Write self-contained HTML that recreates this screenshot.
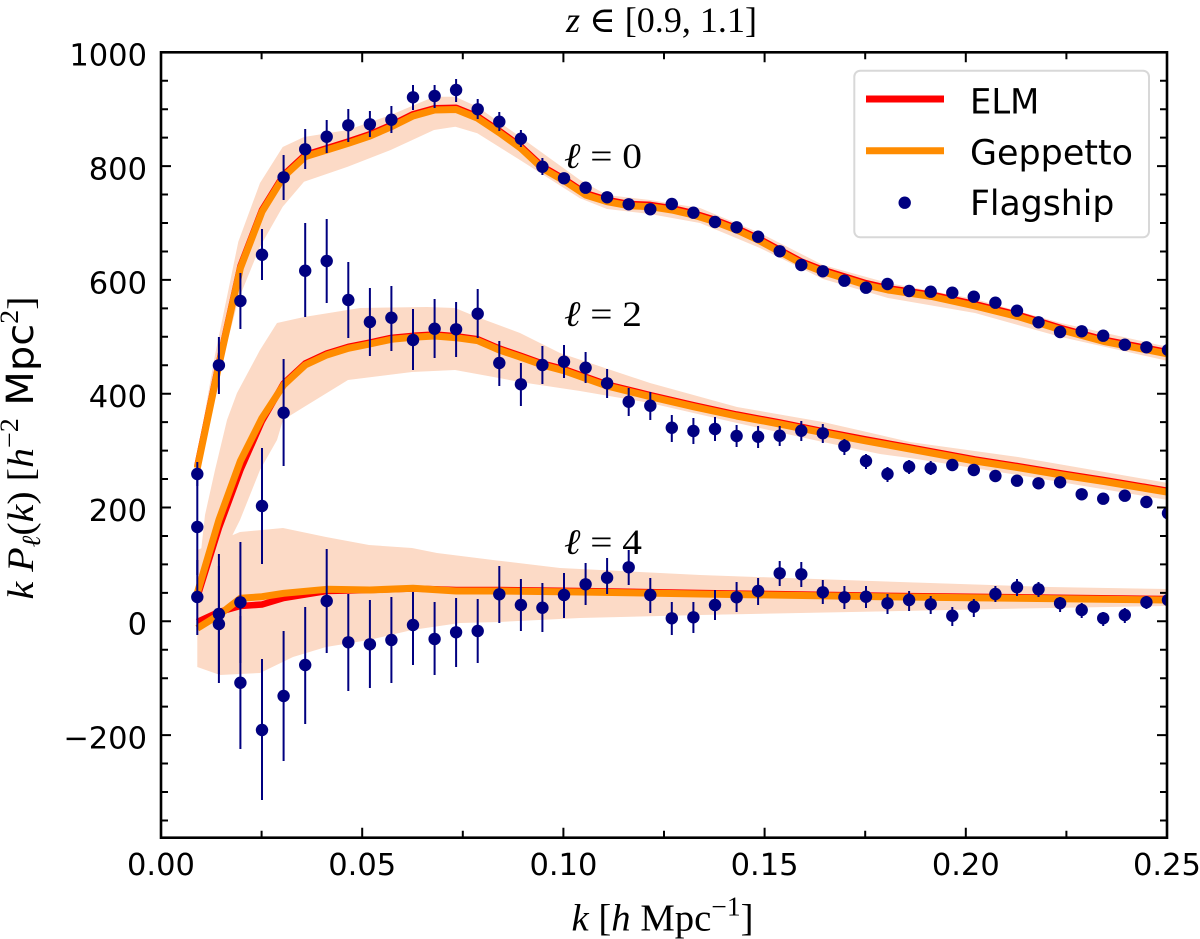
<!DOCTYPE html>
<html><head><meta charset="utf-8"><style>html,body{margin:0;padding:0;background:#fff}svg{display:block}</style></head>
<body>
<svg width="1200" height="939" viewBox="0 0 1200 939" xmlns="http://www.w3.org/2000/svg">
<defs><clipPath id="ax"><rect x="161" y="52.3" width="1006" height="785.4"/></clipPath></defs>
<rect width="1200" height="939" fill="#fff"/>
<g clip-path="url(#ax)">
<g fill="#fcdac6" stroke="none">
<polygon points="197.3,455 215,355 238.3,241.7 260,183 282.7,147 304,137 347.7,130 390.7,115 434,96.7 455.3,96.7 477.3,106.7 520,136.7 580,180 607,195 650,200 700,208 760,233 823,265 888,283 975,299 1061,323 1168,347 1168,361 1061,337 975,313 888,298 823,279 760,248 700,223 650,214 607,209 580,198.3 520,160 477.3,133.3 455.3,126.7 434,130 390.7,150 347.7,166.7 304,181.7 282.7,206.7 260,246.7 238.3,300 215,390 197.3,485"/>
<polygon points="197.3,585 205,515 215,470 227,420 237,393 260,350 277,323 304,317 360,308 427,307 455,308 477,317 520,333 560,353 650,383 737,407 823,422 880,435 910,442 1018,457 1168,483 1168,500 1018,475 910,458 880,454 823,442 737,423 650,403 580,391 520,382 499,378 455,370 412,372 348,380 304,407 283,420 277,440 260,470 240,520 220,560 197.3,600"/>
<polygon points="197.3,550 240,532 283,528 326,537 369,545 412,548 437,553 493,560 560,568 700,575 900,582 1050,587 1168,589 1168,606 1050,608 900,611 700,615 580,618 499,622 460,623 412,630 369,640 326,647 293,657 260,673 220,675 197.3,667"/>
</g>
<g fill="none" stroke="#ff0000" stroke-width="6.5" stroke-linejoin="round">
<path transform="translate(0,-1.8)" d="M197.3,468 L218.9,365 L240.4,268 L262,211.7 L283.6,176.7 L305.2,156.7 L326.7,150 L348.3,143.3 L369.9,136 L391.4,126.7 L413,116 L434.6,110 L456.1,109.5 L477.7,118.3 L499.3,132.7 L520.9,148.3 L542.4,168.3 L564,180.7 L585.6,195 L607.1,201.7 L628.7,205.7 L650.3,206.7 L671.8,210 L693.4,215 L715,221.7 L736.6,230 L758.1,240 L779.7,251.7 L801.3,263.3 L822.8,271.7 L844.4,278.3 L866,285 L888,290 L931.7,296.5 L975,306 L1018.3,316.7 L1061.7,330 L1105,341.7 L1168,354"/>
<path d="M197.3,597 L218.9,528 L240.4,470 L262,421 L283.6,383.5 L305.2,363.5 L326.7,353.5 L348.3,346.8 L369.9,342.5 L391.4,337.8 L413,335.8 L434.6,334.5 L456.1,336.2 L477.7,339.2 L499.3,348.5 L520.9,355.8 L542.4,363.5 L564,369.2 L607.1,384.5 L650.3,395.2 L693.4,405.2 L736.6,414.5 L779.7,422.5 L822.8,431.2 L866,439.5 L910,447.5 L953.3,455.5 L975,459.5 L1018.3,466.2 L1061.7,473.5 L1105,480.2 L1168,490.8"/>
<path d="M197.3,622 L218.9,612 L240.4,606 L262,604.5 L283.6,598 L326.7,591 L369.9,590 L413,588.5 L456.1,590 L499.3,590 L580,591 L700,593 L900,596 L1168,599"/>
</g>
<g fill="none" stroke="#ff8c00" stroke-width="7" stroke-linejoin="round">
<path d="M197.3,468 L218.9,365 L240.4,268 L262,211.7 L283.6,176.7 L305.2,156.7 L326.7,150 L348.3,143.3 L369.9,136 L391.4,126.7 L413,116 L434.6,110 L456.1,109.5 L477.7,118.3 L499.3,132.7 L520.9,148.3 L542.4,168.3 L564,180.7 L585.6,195 L607.1,201.7 L628.7,205.7 L650.3,206.7 L671.8,210 L693.4,215 L715,221.7 L736.6,230 L758.1,240 L779.7,251.7 L801.3,263.3 L822.8,271.7 L844.4,278.3 L866,285 L888,290 L931.7,296.5 L975,306 L1018.3,316.7 L1061.7,330 L1105,341.7 L1168,354"/>
<path d="M197.3,593 L218.9,520 L240.4,461 L262,418 L283.6,385 L305.2,365 L326.7,355 L348.3,348.3 L369.9,344 L391.4,339.3 L413,337.3 L434.6,336 L456.1,337.7 L477.7,340.7 L499.3,350 L520.9,357.3 L542.4,365 L564,370.7 L607.1,386 L650.3,396.7 L693.4,406.7 L736.6,416 L779.7,424 L822.8,432.7 L866,441 L910,449 L953.3,457 L975,461 L1018.3,467.7 L1061.7,475 L1105,481.7 L1168,492.3"/>
<path d="M197.3,628.3 L218.9,615 L240.4,598.3 L262,596.7 L283.6,593.3 L326.7,589.3 L369.9,590 L413,588.3 L456.1,591 L499.3,591 L580,592 L700,594 L900,597 L1168,600"/>
</g>
<g fill="none" stroke="#000080" stroke-width="2">
<path d="M197.3,462V486 M218.9,337V394 M240.4,273V329 M262,229V280 M283.6,155V200 M305.2,129V169 M326.7,120V153 M348.3,109V142 M369.9,111V137 M391.4,106V133 M413,85V110 M434.6,85V108 M456.1,79V102 M477.7,99V119 M499.3,112V131 M520.9,130V147 M542.4,158V175"/>
<path d="M197.3,480V575 M218.9,554V674 M240.4,542V663 M262,448V564 M283.6,359V466 M305.2,223V317 M326.7,219V303 M348.3,262V338 M369.9,288V356 M391.4,286V351 M413,309V370 M434.6,299V358 M456.1,302V357 M477.7,289V338 M499.3,341V386 M520.9,363V406 M542.4,346V384 M564,345V378 M585.6,352V383 M607.1,369V398 M628.7,388V416 M650.3,392V420 M671.8,415V442 M693.4,418V444 M715,417V441 M736.6,425V447 M758.1,426V448 M779.7,426V446 M801.3,421V441 M822.8,424V443 M844.4,439V455 M866,454V469 M887.5,467V482 M909.1,460V474 M930.7,461V475 M952.3,459V471 M973.8,464V476"/>
<path d="M197.3,560V635 M218.9,566V683 M240.4,616V749 M262,659V800 M283.6,631V761 M305.2,607V724 M326.7,549V653 M348.3,594V691 M369.9,600V688 M391.4,597V683 M413,592V665 M434.6,602V675 M456.1,598V667 M477.7,599V663 M499.3,566V623 M520.9,579V631 M542.4,583V632 M564,573V618 M585.6,563V605 M607.1,558V594 M628.7,550V585 M650.3,578V613 M671.8,602V635 M693.4,602V633 M715,590V620 M736.6,582V612 M758.1,578V605 M779.7,561V586 M801.3,562V587 M822.8,580V604 M844.4,586V609 M866,586V608 M887.5,594V614 M909.1,591V611 M930.7,596V614 M952.3,607V626 M973.8,599V617 M995.4,586V602 M1017,579V596 M1038.5,582V597 M1060.1,597V612 M1081.7,603V618 M1103.2,612V626 M1124.8,608V623 M1146.4,596V609"/>
</g>
<g fill="#000080">
<circle cx="197.3" cy="474" r="6.2"/><circle cx="218.9" cy="365.3" r="6.2"/><circle cx="240.4" cy="301" r="6.2"/><circle cx="262" cy="254.7" r="6.2"/><circle cx="283.6" cy="177.3" r="6.2"/><circle cx="305.2" cy="149.3" r="6.2"/><circle cx="326.7" cy="136.7" r="6.2"/><circle cx="348.3" cy="125.3" r="6.2"/><circle cx="369.9" cy="124.3" r="6.2"/><circle cx="391.4" cy="119.7" r="6.2"/><circle cx="413" cy="97.3" r="6.2"/><circle cx="434.6" cy="96" r="6.2"/><circle cx="456.1" cy="90" r="6.2"/><circle cx="477.7" cy="109.3" r="6.2"/><circle cx="499.3" cy="121.7" r="6.2"/><circle cx="520.9" cy="138.7" r="6.2"/><circle cx="542.4" cy="166.7" r="6.2"/><circle cx="564" cy="178.3" r="6.2"/><circle cx="585.6" cy="187.7" r="6.2"/><circle cx="607.1" cy="197.3" r="6.2"/><circle cx="628.7" cy="204.3" r="6.2"/><circle cx="650.3" cy="209.3" r="6.2"/><circle cx="671.8" cy="204" r="6.2"/><circle cx="693.4" cy="212.7" r="6.2"/><circle cx="715" cy="222" r="6.2"/><circle cx="736.6" cy="227.3" r="6.2"/><circle cx="758.1" cy="236.7" r="6.2"/><circle cx="779.7" cy="251.3" r="6.2"/><circle cx="801.3" cy="265" r="6.2"/><circle cx="822.8" cy="271.3" r="6.2"/><circle cx="844.4" cy="280.7" r="6.2"/><circle cx="866" cy="287.7" r="6.2"/><circle cx="887.5" cy="284" r="6.2"/><circle cx="909.1" cy="291" r="6.2"/><circle cx="930.7" cy="291.7" r="6.2"/><circle cx="952.3" cy="292.7" r="6.2"/><circle cx="973.8" cy="296.7" r="6.2"/><circle cx="995.4" cy="302.7" r="6.2"/><circle cx="1017" cy="310.7" r="6.2"/><circle cx="1038.5" cy="322.3" r="6.2"/><circle cx="1060.1" cy="332" r="6.2"/><circle cx="1081.7" cy="331.3" r="6.2"/><circle cx="1103.2" cy="335.7" r="6.2"/><circle cx="1124.8" cy="344.7" r="6.2"/><circle cx="1146.4" cy="347.3" r="6.2"/><circle cx="1168" cy="350" r="6.2"/>
<circle cx="197.3" cy="527" r="6.2"/><circle cx="218.9" cy="614" r="6.2"/><circle cx="240.4" cy="602.3" r="6.2"/><circle cx="262" cy="506" r="6.2"/><circle cx="283.6" cy="412.7" r="6.2"/><circle cx="305.2" cy="270.7" r="6.2"/><circle cx="326.7" cy="261" r="6.2"/><circle cx="348.3" cy="300" r="6.2"/><circle cx="369.9" cy="322" r="6.2"/><circle cx="391.4" cy="317.7" r="6.2"/><circle cx="413" cy="340" r="6.2"/><circle cx="434.6" cy="328.7" r="6.2"/><circle cx="456.1" cy="329.3" r="6.2"/><circle cx="477.7" cy="313.7" r="6.2"/><circle cx="499.3" cy="363" r="6.2"/><circle cx="520.9" cy="384.3" r="6.2"/><circle cx="542.4" cy="365" r="6.2"/><circle cx="564" cy="361.7" r="6.2"/><circle cx="585.6" cy="367.7" r="6.2"/><circle cx="607.1" cy="383.3" r="6.2"/><circle cx="628.7" cy="401.7" r="6.2"/><circle cx="650.3" cy="405.7" r="6.2"/><circle cx="671.8" cy="427.7" r="6.2"/><circle cx="693.4" cy="431" r="6.2"/><circle cx="715" cy="429" r="6.2"/><circle cx="736.6" cy="436" r="6.2"/><circle cx="758.1" cy="436.7" r="6.2"/><circle cx="779.7" cy="435.7" r="6.2"/><circle cx="801.3" cy="430.7" r="6.2"/><circle cx="822.8" cy="433.3" r="6.2"/><circle cx="844.4" cy="446" r="6.2"/><circle cx="866" cy="461" r="6.2"/><circle cx="887.5" cy="474" r="6.2"/><circle cx="909.1" cy="466.7" r="6.2"/><circle cx="930.7" cy="468.3" r="6.2"/><circle cx="952.3" cy="465" r="6.2"/><circle cx="973.8" cy="470" r="6.2"/><circle cx="995.4" cy="476" r="6.2"/><circle cx="1017" cy="480.7" r="6.2"/><circle cx="1038.5" cy="483.3" r="6.2"/><circle cx="1060.1" cy="482.3" r="6.2"/><circle cx="1081.7" cy="494.3" r="6.2"/><circle cx="1103.2" cy="498.7" r="6.2"/><circle cx="1124.8" cy="495.7" r="6.2"/><circle cx="1146.4" cy="502" r="6.2"/><circle cx="1168" cy="513.3" r="6.2"/>
<circle cx="197.3" cy="597" r="6.2"/><circle cx="218.9" cy="624" r="6.2"/><circle cx="240.4" cy="682.7" r="6.2"/><circle cx="262" cy="730" r="6.2"/><circle cx="283.6" cy="696" r="6.2"/><circle cx="305.2" cy="665" r="6.2"/><circle cx="326.7" cy="601" r="6.2"/><circle cx="348.3" cy="642.3" r="6.2"/><circle cx="369.9" cy="644.3" r="6.2"/><circle cx="391.4" cy="640" r="6.2"/><circle cx="413" cy="625" r="6.2"/><circle cx="434.6" cy="639" r="6.2"/><circle cx="456.1" cy="632.3" r="6.2"/><circle cx="477.7" cy="631" r="6.2"/><circle cx="499.3" cy="594.3" r="6.2"/><circle cx="520.9" cy="605" r="6.2"/><circle cx="542.4" cy="607.7" r="6.2"/><circle cx="564" cy="595" r="6.2"/><circle cx="585.6" cy="584.3" r="6.2"/><circle cx="607.1" cy="577.7" r="6.2"/><circle cx="628.7" cy="567.3" r="6.2"/><circle cx="650.3" cy="595" r="6.2"/><circle cx="671.8" cy="618.3" r="6.2"/><circle cx="693.4" cy="617.3" r="6.2"/><circle cx="715" cy="605" r="6.2"/><circle cx="736.6" cy="597.3" r="6.2"/><circle cx="758.1" cy="591" r="6.2"/><circle cx="779.7" cy="573.3" r="6.2"/><circle cx="801.3" cy="574.3" r="6.2"/><circle cx="822.8" cy="592.3" r="6.2"/><circle cx="844.4" cy="597.3" r="6.2"/><circle cx="866" cy="596.7" r="6.2"/><circle cx="887.5" cy="603.3" r="6.2"/><circle cx="909.1" cy="600" r="6.2"/><circle cx="930.7" cy="604.3" r="6.2"/><circle cx="952.3" cy="615.7" r="6.2"/><circle cx="973.8" cy="606.7" r="6.2"/><circle cx="995.4" cy="594" r="6.2"/><circle cx="1017" cy="587.3" r="6.2"/><circle cx="1038.5" cy="589.3" r="6.2"/><circle cx="1060.1" cy="603.3" r="6.2"/><circle cx="1081.7" cy="610" r="6.2"/><circle cx="1103.2" cy="618.3" r="6.2"/><circle cx="1124.8" cy="615" r="6.2"/><circle cx="1146.4" cy="602.3" r="6.2"/><circle cx="1168" cy="600" r="6.2"/>
</g>
</g>
<g font-family="'Liberation Serif','DejaVu Serif',serif" font-size="36" fill="#000">
<text x="564" y="168" textLength="78" lengthAdjust="spacingAndGlyphs"><tspan font-style="italic">ℓ</tspan> = 0</text>
<text x="564" y="326" textLength="78" lengthAdjust="spacingAndGlyphs"><tspan font-style="italic">ℓ</tspan> = 2</text>
<text x="564" y="554" textLength="78" lengthAdjust="spacingAndGlyphs"><tspan font-style="italic">ℓ</tspan> = 4</text>
</g>
<g stroke="#000" stroke-width="2" fill="none">
<path d="M261.6,837.7v-7 M362.2,837.7v-10 M462.8,837.7v-7 M563.4,837.7v-10 M664,837.7v-7 M764.6,837.7v-10 M865.2,837.7v-7 M965.8,837.7v-10 M1066.4,837.7v-7
M261.6,52.3v7 M362.2,52.3v10 M462.8,52.3v7 M563.4,52.3v10 M664,52.3v7 M764.6,52.3v10 M865.2,52.3v7 M965.8,52.3v10 M1066.4,52.3v7"/>
<path d="M161,80.75h7 M161,109.2h7 M161,137.65h7 M161,166.1h10 M161,194.55h7 M161,223h7 M161,251.45h7 M161,279.9h10 M161,308.35h7 M161,336.8h7 M161,365.25h7 M161,393.7h10 M161,422.15h7 M161,450.6h7 M161,479.05h7 M161,507.5h10 M161,535.95h7 M161,564.4h7 M161,592.85h7 M161,621.3h10 M161,649.75h7 M161,678.2h7 M161,706.65h7 M161,735.1h10 M161,763.55h7 M161,792h7 M161,820.45h7"/>
<path d="M1167,80.75h-7 M1167,109.2h-7 M1167,137.65h-7 M1167,166.1h-10 M1167,194.55h-7 M1167,223h-7 M1167,251.45h-7 M1167,279.9h-10 M1167,308.35h-7 M1167,336.8h-7 M1167,365.25h-7 M1167,393.7h-10 M1167,422.15h-7 M1167,450.6h-7 M1167,479.05h-7 M1167,507.5h-10 M1167,535.95h-7 M1167,564.4h-7 M1167,592.85h-7 M1167,621.3h-10 M1167,649.75h-7 M1167,678.2h-7 M1167,706.65h-7 M1167,735.1h-10 M1167,763.55h-7 M1167,792h-7 M1167,820.45h-7"/>
</g>
<rect x="161" y="52.3" width="1006" height="785.4" fill="none" stroke="#000" stroke-width="2.6"/>
<g font-family="'DejaVu Sans','Liberation Sans',sans-serif" font-size="30.5" fill="#000">
<g text-anchor="end">
<text x="147" y="65.7">1000</text>
<text x="147" y="179.5">800</text>
<text x="147" y="293.3">600</text>
<text x="147" y="407.1">400</text>
<text x="147" y="520.9">200</text>
<text x="147" y="634.7">0</text>
<text x="147" y="748.5">−200</text>
</g>
<g text-anchor="middle">
<text x="161" y="875">0.00</text>
<text x="362.2" y="875">0.05</text>
<text x="563.4" y="875">0.10</text>
<text x="764.6" y="875">0.15</text>
<text x="965.8" y="875">0.20</text>
<text x="1167" y="875">0.25</text>
</g>
</g>
<g font-family="'Liberation Serif','DejaVu Serif',serif" fill="#000">
<text x="661.5" y="32" font-size="36" text-anchor="middle" textLength="191" lengthAdjust="spacingAndGlyphs"><tspan font-style="italic">z</tspan> ∈ [0.9, 1.1]</text>
<text x="662.5" y="930.7" font-size="38" text-anchor="middle" textLength="182" lengthAdjust="spacingAndGlyphs"><tspan font-style="italic">k</tspan> [<tspan font-style="italic">h</tspan> Mpc<tspan font-size="27" dy="-15">−1</tspan><tspan dy="15">]</tspan></text>
<text transform="translate(33,448) rotate(-90)" font-size="37" text-anchor="middle" textLength="303" lengthAdjust="spacingAndGlyphs"><tspan font-style="italic">k</tspan> <tspan font-style="italic">P</tspan><tspan font-size="26" dy="7" font-style="italic">ℓ</tspan><tspan dy="-7">(</tspan><tspan font-style="italic">k</tspan>) [<tspan font-style="italic">h</tspan><tspan font-size="26" dy="-15">−2</tspan><tspan dy="15" font-family="'DejaVu Sans',sans-serif"> Mpc</tspan><tspan font-size="26" dy="-15">2</tspan><tspan dy="15">]</tspan></text>
</g>
<rect x="854.3" y="70.7" width="294.7" height="166.6" rx="6" ry="6" fill="#fff" fill-opacity="0.85" stroke="#d8d8d8" stroke-width="2"/>
<line x1="866" y1="99" x2="944" y2="99" stroke="#ff0000" stroke-width="7"/>
<line x1="866" y1="150.7" x2="944" y2="150.7" stroke="#ff8c00" stroke-width="7"/>
<circle cx="904.7" cy="202.7" r="6.2" fill="#000080"/>
<g font-family="'DejaVu Sans','Liberation Sans',sans-serif" font-size="35" fill="#000">
<text x="970" y="113.3" textLength="69.3" lengthAdjust="spacingAndGlyphs">ELM</text>
<text x="970" y="164.3" textLength="163" lengthAdjust="spacingAndGlyphs">Geppetto</text>
<text x="970" y="215" textLength="144.3" lengthAdjust="spacingAndGlyphs">Flagship</text>
</g>
</svg>
</body></html>
